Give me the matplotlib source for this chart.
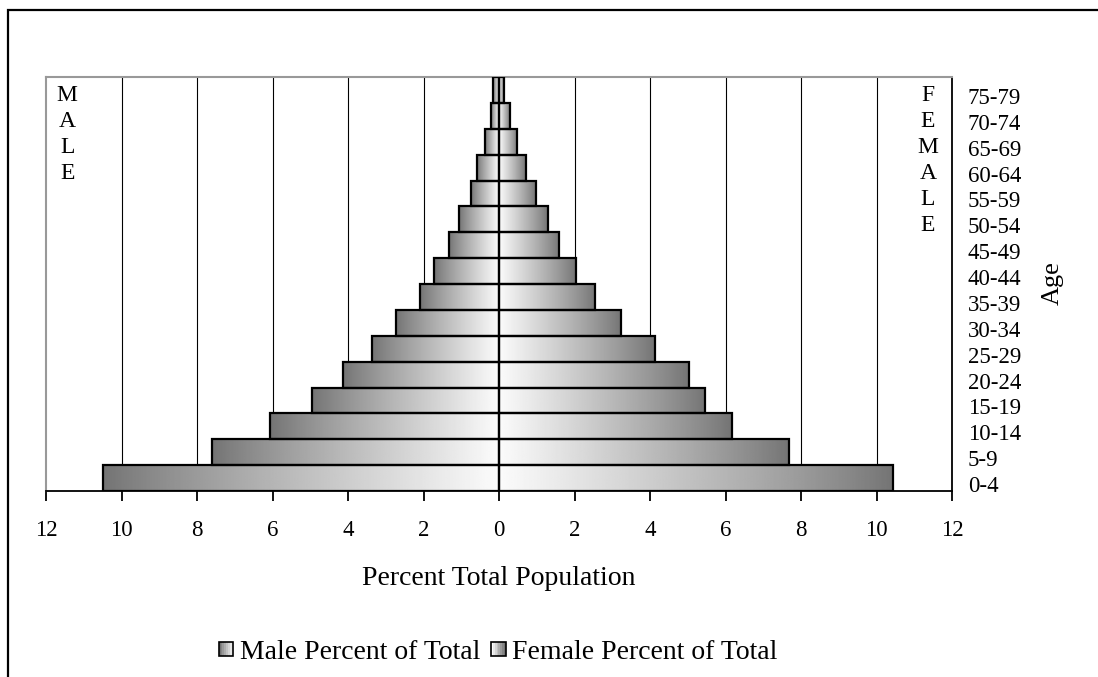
import numpy as np
import matplotlib
matplotlib.use("Agg")
import matplotlib.pyplot as plt
from matplotlib.patches import Rectangle
from matplotlib.legend_handler import HandlerBase
import matplotlib.transforms as mtransforms

plt.rcParams['font.family'] = ['Liberation Serif', 'DejaVu Serif']

ages = ['0-4', '5-9', '10-14', '15-19', '20-24', '25-29', '30-34', '35-39',
        '40-44', '45-49', '50-54', '55-59', '60-64', '65-69', '70-74', '75-79']
male = [10.50, 7.60, 6.07, 4.95, 4.12, 3.36, 2.73, 2.10,
        1.72, 1.32, 1.05, 0.73, 0.58, 0.37, 0.21, 0.16]
female = [10.44, 7.69, 6.16, 5.46, 5.03, 4.13, 3.24, 2.55,
          2.03, 1.60, 1.29, 0.97, 0.71, 0.49, 0.28, 0.12]
xticks = [-12, -10, -8, -6, -4, -2, 0, 2, 4, 6, 8, 10, 12]
xticklabels = ['12', '10', '8', '6', '4', '2', '0', '2', '4', '6', '8', '10', '12']

W, H = 1098, 677
fig = plt.figure(figsize=(W / 100, H / 100), dpi=100)
fig.patch.set_facecolor('white')

# outer frame
fig.add_artist(Rectangle((8 / W, -0.05), 1.2, 1 - 10 / H + 0.05,
                         transform=fig.transFigure, fill=False,
                         edgecolor='black', linewidth=1.6))

ax = fig.add_axes([46 / W, 1 - 491 / H, 906 / W, 414 / H])
y = np.arange(len(ages))

mb = ax.barh(y, -np.array(male), height=1.0, facecolor='none',
             edgecolor='black', linewidth=1.6, zorder=3)
fb = ax.barh(y, female, height=1.0, facecolor='none',
             edgecolor='black', linewidth=1.6, zorder=3)

dark, light = 0.45, 0.985
t = np.linspace(0, 1, 256)
ramp = dark + (light - dark) * t ** 0.85   # outer edge dark -> centre light


def add_gradient(patch, outer_left):
    bb = patch.get_bbox()
    x0, x1 = sorted([bb.x0, bb.x1])
    y0, y1 = sorted([bb.y0, bb.y1])
    arr = ramp if outer_left else ramp[::-1]
    im = ax.imshow(arr[np.newaxis, :], extent=[x0, x1, y0, y1],
                   cmap='gray', vmin=0, vmax=1, aspect='auto',
                   interpolation='bilinear', zorder=2)
    im.set_clip_path(patch)


for p in mb.patches:
    add_gradient(p, True)
for p in fb.patches:
    add_gradient(p, False)

ax.set_xlim(-12, 12)
ax.set_ylim(-0.5, len(ages) - 0.5)
ax.set_aspect('auto')

# vertical gridlines
for xv in xticks[1:-1]:
    if xv != 0:
        ax.axvline(xv, color='black', linewidth=0.8, zorder=1)

ax.set_xticks(xticks)
ax.set_xticklabels(xticklabels, fontsize=16.5)
ax.tick_params(axis='x', direction='out', length=7, width=1.3, pad=14)

ax.yaxis.tick_right()
ax.set_yticks(y)
ax.set_yticklabels(ages, fontsize=16.5)
ax.tick_params(axis='y', length=0, pad=11.5)
off = mtransforms.ScaledTranslation(0, -6 / 100, fig.dpi_scale_trans)
for lab in ax.get_yticklabels():
    lab.set_transform(lab.get_transform() + off)

for s in ['left', 'top']:
    ax.spines[s].set_color('#999999')
    ax.spines[s].set_linewidth(1.5)
for s in ['right', 'bottom']:
    ax.spines[s].set_color('black')
    ax.spines[s].set_linewidth(1.3)

ax.set_xlabel('Percent Total Population', fontsize=20, labelpad=18)
fig.text(1053 / W, 1 - 283 / H, 'Age', rotation=90, ha='center', va='center',
         fontsize=19)

# MALE / FEMALE vertical labels
for i, ch in enumerate('MALE'):
    ax.text(-11.44, len(ages) - 1 - i, ch, ha='center', va='center', fontsize=17,
            transform=ax.transData + off)
for i, ch in enumerate('FEMALE'):
    ax.text(11.36, len(ages) - 1 - i, ch, ha='center', va='center', fontsize=17,
            transform=ax.transData + off)


class GradHandler(HandlerBase):
    def __init__(self, rev):
        super().__init__()
        self.rev = rev

    def create_artists(self, legend, orig_handle, xdescent, ydescent,
                       width, height, fontsize, trans):
        s = min(width, height) * 0.75
        x0 = xdescent + (width - s) / 2
        y0 = -ydescent + (height - s) / 2
        arts = []
        n = 8
        vals = dark + (light - dark) * np.linspace(0, 1, n)
        if self.rev:
            vals = vals[::-1]
        for k in range(n):
            r = Rectangle((x0 + k * s / n, y0), s / n + 0.2, s,
                          facecolor=str(vals[k]), edgecolor='none',
                          transform=trans)
            arts.append(r)
        arts.append(Rectangle((x0, y0), s, s, facecolor='none',
                              edgecolor='black', linewidth=1.2, transform=trans))
        return arts


h1 = Rectangle((0, 0), 1, 1)
h2 = Rectangle((0, 0), 1, 1)
fig.legend([h1, h2], ['Male Percent of Total', 'Female Percent of Total'],
           handler_map={h1: GradHandler(False), h2: GradHandler(True)},
           loc='center', bbox_to_anchor=(497 / W, 1 - 652 / H), ncol=2,
           frameon=False, fontsize=20, handlelength=0.7, handleheight=0.7,
           handletextpad=0.15, columnspacing=0.3)

fig.savefig('out.png', dpi=100)
